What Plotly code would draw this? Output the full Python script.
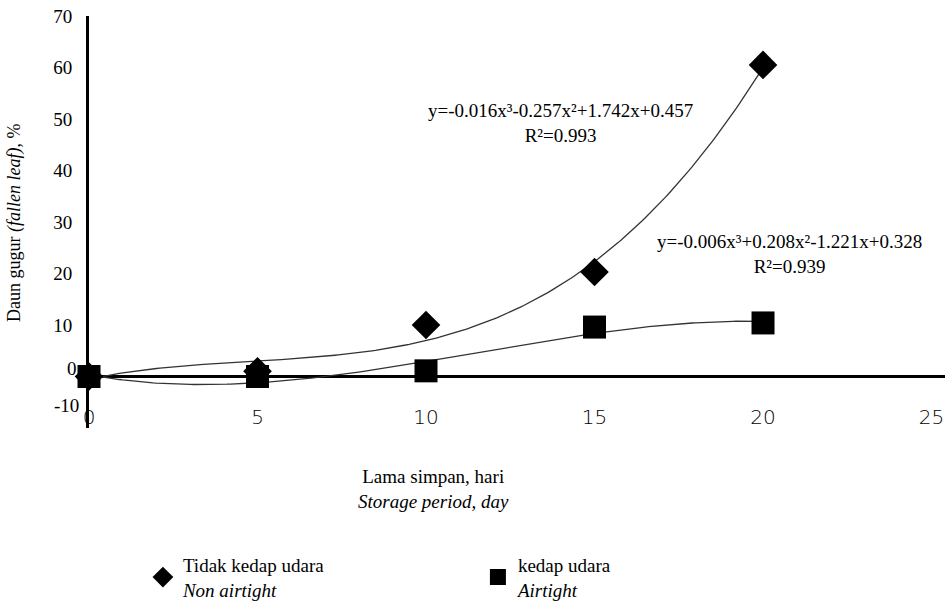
import numpy as np
import plotly.graph_objects as go

# ---- data ----
days = [0, 5, 10, 15, 20]
non_airtight = [0.0, 1.0, 10.0, 20.3, 60.5]
airtight = [0.0, 0.0, 1.1, 9.6, 10.4]
x_ticks = [0, 5, 10, 15, 20, 25]
y_ticks = [10, 20, 30, 40, 50, 60, 70]
eq_non = "y=-0.016x³-0.257x²+1.742x+0.457<br>R²=0.993"
eq_air = "y=-0.006x³+0.208x²-1.221x+0.328<br>R²=0.939"
name_non = "Tidak kedap udara<br><i>Non airtight</i>"
name_air = "kedap udara<br><i>Airtight</i>"

# cubic trend lines fitted to the observed points
grid = np.linspace(min(days), max(days), 201)
fit_non = np.polyval(np.polyfit(days, non_airtight, 3), grid)
fit_air = np.polyval(np.polyfit(days, airtight, 3), grid)

SERIF = "Liberation Serif"
fig = go.Figure()
fig.add_trace(go.Scatter(x=grid, y=fit_non, mode="lines",
                         line=dict(color="#333333", width=1.3),
                         showlegend=False, hoverinfo="skip"))
fig.add_trace(go.Scatter(x=grid, y=fit_air, mode="lines",
                         line=dict(color="#333333", width=1.3),
                         showlegend=False, hoverinfo="skip"))
fig.add_trace(go.Scatter(x=days, y=non_airtight, mode="markers", name=name_non,
                         marker=dict(symbol="diamond", size=22, color="black"),
                         cliponaxis=False))
fig.add_trace(go.Scatter(x=days, y=airtight, mode="markers", name=name_air,
                         marker=dict(symbol="square", size=23, color="black"),
                         cliponaxis=False))

fig.add_annotation(x=14.0, y=49.2, xref="x", yref="y", text=eq_non, showarrow=False,
                   xanchor="center", yanchor="middle",
                   font=dict(family=SERIF, size=19, color="black"), align="center")
fig.add_annotation(x=20.8, y=23.8, xref="x", yref="y", text=eq_air, showarrow=False,
                   xanchor="center", yanchor="middle",
                   font=dict(family=SERIF, size=19, color="black"), align="center")

# y tick labels for 0 and -10 (drawn slightly above their grid value as in the original)
fig.add_annotation(x=0, y=0, xref="paper", yref="y", text="0", showarrow=False,
                   xanchor="right", yanchor="middle", xshift=-10, yshift=8,
                   font=dict(family=SERIF, size=19, color="black"))
fig.add_annotation(x=0, y=-10, xref="paper", yref="y", text="-10", showarrow=False,
                   xanchor="right", yanchor="middle", xshift=-8, yshift=23,
                   font=dict(family=SERIF, size=19, color="black"))

# axis titles
fig.add_annotation(x=-0.0864, y=0.4976, xref="paper", yref="paper",
                   xanchor="center", yanchor="middle",
                   text="Daun gugur <i>(fallen leaf)</i>, %", textangle=-90,
                   showarrow=False, font=dict(family=SERIF, size=18, color="black"))
fig.add_annotation(x=0.403, y=-0.148, xref="paper", yref="paper",
                   xanchor="center", yanchor="middle",
                   text="Lama simpan, hari<br><i>Storage period, day</i>",
                   showarrow=False, font=dict(family=SERIF, size=19, color="black"),
                   align="center")

fig.update_layout(
    width=950, height=603,
    margin=dict(l=89, r=5, t=16, b=175, autoexpand=False),
    plot_bgcolor="white", paper_bgcolor="white",
    showlegend=True,
    legend=dict(orientation="h", x=0.063, y=-0.286, xanchor="left", yanchor="top",
                entrywidth=290, font=dict(family=SERIF, size=19, color="black"),
                bgcolor="rgba(0,0,0,0)"),
    xaxis=dict(range=[0, 25.4], tickvals=x_ticks, showgrid=False, zeroline=False,
               showline=False, ticks="", anchor="free", position=0.06,
               automargin=False, ticklabeloverflow="allow",
               tickfont=dict(family="DejaVu Sans", size=20, color="black", weight=300)),
    yaxis=dict(range=[-10, 70], tickvals=y_ticks, showgrid=False,
               zeroline=True, zerolinecolor="black", zerolinewidth=3,
               showline=True, linecolor="black", linewidth=3, ticks="",
               ticklabelstandoff=10, automargin=False, ticklabeloverflow="allow",
               tickfont=dict(family=SERIF, size=19, color="black")),
)

# remove the default 8px page margin so the figure sits at the window's top-left
fig.write_html("out.html", config={"displayModeBar": False},
               post_script="document.body.style.margin='0px';document.body.style.overflow='hidden';")
